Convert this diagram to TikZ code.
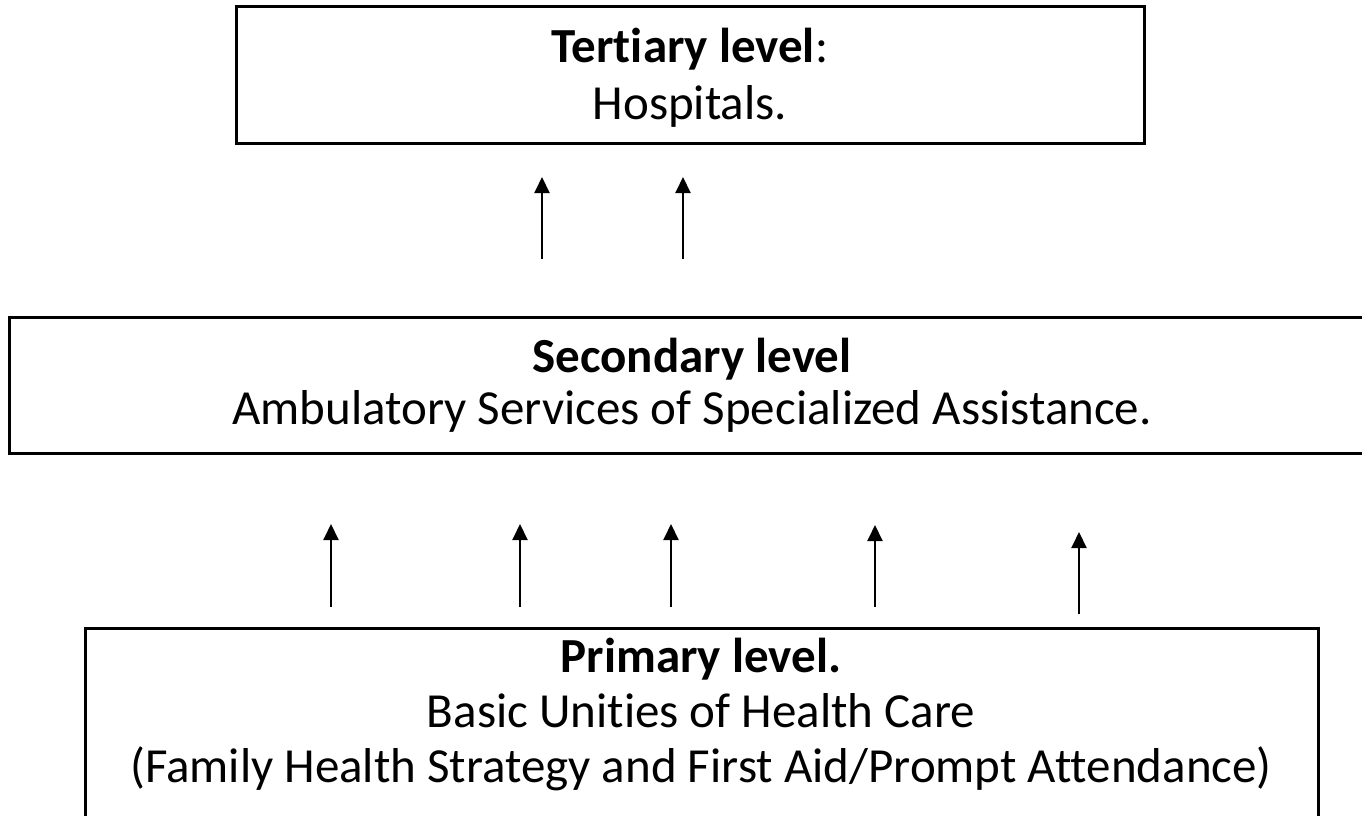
\documentclass[tikz,border=0pt]{standalone}
\usepackage{fontspec}
\setmainfont{Carlito}[Ligatures=NoCommon]
\usetikzlibrary{arrows.meta}
\tikzset{
  box/.style={draw=black, line width=3pt, rectangle, inner sep=0pt},
  lbl/.style={anchor=base, inner sep=0pt, font=\fontsize{49}{58}\selectfont},
  uparrow/.style={line width=2pt, -{Triangle[width=15pt,length=16pt]}}
}
\begin{document}
\begin{tikzpicture}[x=1pt,y=-1pt]
\useasboundingbox (0,0) rectangle (1362,816);
\clip (0,0) rectangle (1362,816);
% boxes
\node[box, minimum width=908pt, minimum height=136pt] (tert) at (690,75) {};
\node[box, minimum width=1366pt, minimum height=136pt] (sec) at (692,385) {};
\node[box, minimum width=1233pt, minimum height=222pt] (prim) at (701.5,739) {};
% texts
\node[lbl] (t1) at (690,63) {\textbf{Tertiary level}:};
\node[lbl] (t2) at (690,119) {Hospitals.};
\node[lbl] (s1) at (692,372) {\textbf{Secondary level}};
\node[lbl] (s2) at (692,424) {Ambulatory Services of Specialized Assistance.};
\node[lbl] (p1) at (701,672) {\textbf{Primary level.}};
\node[lbl] (p2) at (701,727) {Basic Unities of Health Care};
\node[lbl] (p3) at (701,782) {(Family Health Strategy and First Aid/Prompt Attendance)};
% arrow end points
\coordinate (a1s) at (542,259); \coordinate (a1e) at (542,177);
\coordinate (a2s) at (683,259); \coordinate (a2e) at (683,177);
\coordinate (b1s) at (331,607); \coordinate (b1e) at (331,524);
\coordinate (b2s) at (520,607); \coordinate (b2e) at (520,524);
\coordinate (b3s) at (671,607); \coordinate (b3e) at (671,524);
\coordinate (b4s) at (875,607); \coordinate (b4e) at (875,525);
\coordinate (b5s) at (1079,614); \coordinate (b5e) at (1079,532);
\draw[uparrow] (a1s) -- (a1e);
\draw[uparrow] (a2s) -- (a2e);
\draw[uparrow] (b1s) -- (b1e);
\draw[uparrow] (b2s) -- (b2e);
\draw[uparrow] (b3s) -- (b3e);
\draw[uparrow] (b4s) -- (b4e);
\draw[uparrow] (b5s) -- (b5e);
\end{tikzpicture}
\end{document}
